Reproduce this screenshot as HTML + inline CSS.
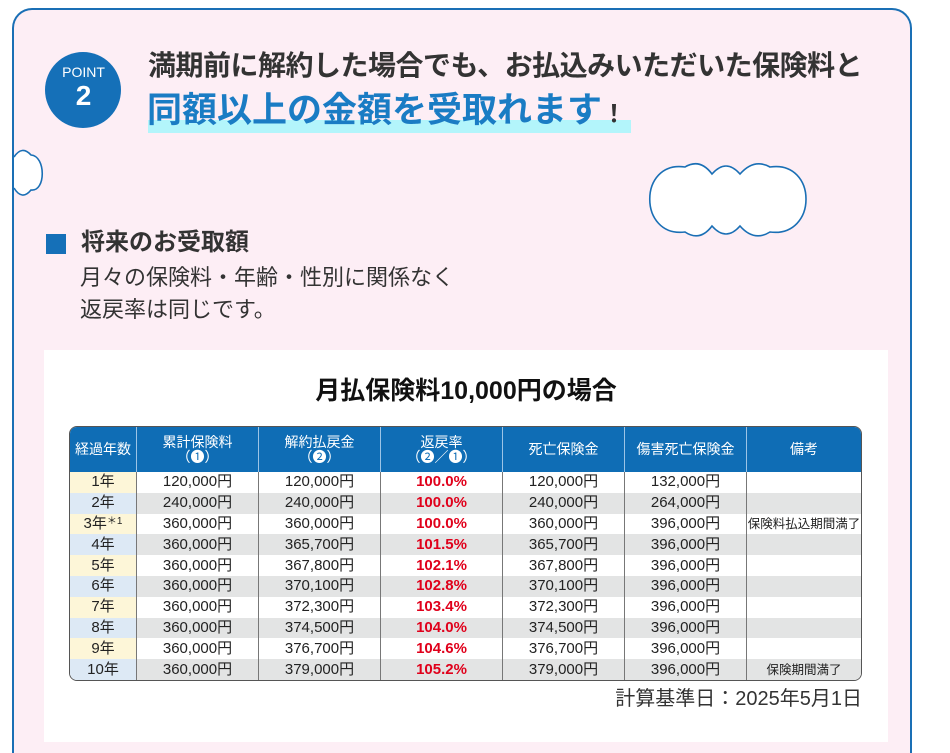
<!DOCTYPE html>
<html><head><meta charset="utf-8"><style>
html,body{margin:0;width:950px;height:753px;overflow:hidden}
body{background:#fff;font-family:"Liberation Sans","Noto Sans CJK JP",sans-serif;position:relative}
.card{position:absolute;left:12px;top:8px;width:896px;height:743px;border:2px solid #1a6fb5;border-bottom:none;border-radius:20px 20px 0 0;background:#fdeef5}
.abs{position:absolute;white-space:nowrap}
table{border-collapse:separate;border-spacing:0;position:absolute;left:69px;top:426px;width:793px;border:1px solid #555;border-radius:8px;overflow:hidden;font-size:15px;color:#222;table-layout:fixed}
th{background:#0f6db5;color:#fff;font-weight:normal;font-size:14px;height:45px;line-height:15px;border-left:1px solid #9cc4e6;padding:0}
th:first-child{border-left:none}
td{height:20.8px;padding:0;text-align:center;border-left:1px solid #777;line-height:20px;white-space:nowrap;overflow:hidden}
td:first-child{border-left:none}
tr.o td{background:#fff}tr.e td{background:#e3e4e4}
tr.o td:first-child{background:#fdf6d8}tr.e td:first-child{background:#dde9f5}
td.r{color:#e0001b;font-weight:bold}
sup{font-size:10px;line-height:0;vertical-align:4px}
td.n{font-size:12.5px}
</style></head><body>
<div class="card"></div>
<svg class="abs" style="left:0;top:0" width="950" height="753">
<circle cx="83" cy="90" r="38" fill="#1570b8"/>
<rect x="148" y="120" width="483" height="13" fill="#b3f5fb"/>
<g fill="#fff" stroke="#1a6fb5" stroke-width="1.6">
<path d="M14,157 Q22,145 31,155 C46,156 46,192 31,190 Q22,201 14,188"/>
<path d="M685,167 Q700,158 712,174 Q726,158 740,174 Q754,158 770,167 C818,160 818,238 770,232 Q754,242 740,226 Q726,242 712,226 Q700,242 685,232 C638,238 638,160 685,167 Z"/>
</g>
<rect x="46" y="234" width="20" height="20" fill="#1570b8"/>
<rect x="44" y="350" width="844" height="392" fill="#fff"/>
</svg>
<div class="abs" style="left:56px;top:64px;width:55px;text-align:center;color:#fff;font-size:14px;line-height:16px">POINT</div>
<div class="abs" style="left:56px;top:80px;width:55px;text-align:center;color:#fff;font-size:28px;font-weight:bold;line-height:32px">2</div>
<div class="abs" style="left:148px;top:48px;font-size:28px;font-weight:bold;color:#333;line-height:36px;letter-spacing:-0.5px">満期前に解約した場合でも、お払込みいただいた保険料と</div>
<div class="abs" style="left:147px;top:90px;font-size:35px;font-weight:bold;color:#1a7cc4;line-height:42px">同額以上の金額を受取れます<span style="color:#333;font-size:24px">！</span></div>
<div class="abs" style="left:81px;top:228px;font-size:24px;font-weight:bold;color:#333;line-height:30px">将来のお受取額</div>
<div class="abs" style="left:80px;top:262px;font-size:22px;color:#333;line-height:32px">月々の保険料・年齢・性別に関係なく<br>返戻率は同じです。</div>
<div class="abs" style="left:44px;top:375px;width:844px;text-align:center;font-size:25px;font-weight:bold;color:#111;line-height:32px">月払保険料10,000円の場合</div>
<table>
<colgroup><col style="width:66px"><col style="width:122px"><col style="width:122px"><col style="width:122px"><col style="width:122px"><col style="width:122px"><col></colgroup>
<tr><th>経過年数</th><th>累計保険料<br>（❶）</th><th>解約払戻金<br>（❷）</th><th>返戻率<br>（❷／❶）</th><th>死亡保険金</th><th>傷害死亡保険金</th><th>備考</th></tr>
<tr class="o"><td>1年</td><td>120,000円</td><td>120,000円</td><td class="r">100.0%</td><td>120,000円</td><td>132,000円</td><td></td></tr>
<tr class="e"><td>2年</td><td>240,000円</td><td>240,000円</td><td class="r">100.0%</td><td>240,000円</td><td>264,000円</td><td></td></tr>
<tr class="o"><td>3年<sup>＊1</sup></td><td>360,000円</td><td>360,000円</td><td class="r">100.0%</td><td>360,000円</td><td>396,000円</td><td class="n">保険料払込期間満了</td></tr>
<tr class="e"><td>4年</td><td>360,000円</td><td>365,700円</td><td class="r">101.5%</td><td>365,700円</td><td>396,000円</td><td></td></tr>
<tr class="o"><td>5年</td><td>360,000円</td><td>367,800円</td><td class="r">102.1%</td><td>367,800円</td><td>396,000円</td><td></td></tr>
<tr class="e"><td>6年</td><td>360,000円</td><td>370,100円</td><td class="r">102.8%</td><td>370,100円</td><td>396,000円</td><td></td></tr>
<tr class="o"><td>7年</td><td>360,000円</td><td>372,300円</td><td class="r">103.4%</td><td>372,300円</td><td>396,000円</td><td></td></tr>
<tr class="e"><td>8年</td><td>360,000円</td><td>374,500円</td><td class="r">104.0%</td><td>374,500円</td><td>396,000円</td><td></td></tr>
<tr class="o"><td>9年</td><td>360,000円</td><td>376,700円</td><td class="r">104.6%</td><td>376,700円</td><td>396,000円</td><td></td></tr>
<tr class="e"><td>10年</td><td>360,000円</td><td>379,000円</td><td class="r">105.2%</td><td>379,000円</td><td>396,000円</td><td class="n">保険期間満了</td></tr>
</table>
<div class="abs" style="right:88px;top:686px;font-size:20px;color:#333;line-height:26px">計算基準日：2025年5月1日</div>
</body></html>
